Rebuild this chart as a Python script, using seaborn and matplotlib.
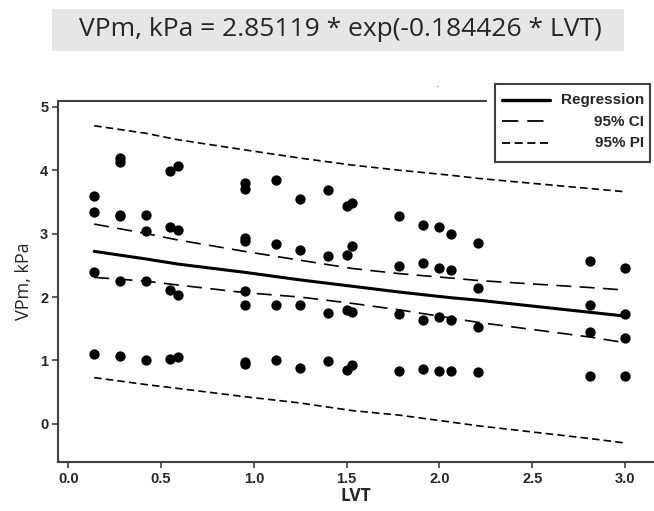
import numpy as np
import pandas as pd
import seaborn as sns
import matplotlib.pyplot as plt
from matplotlib.patches import Rectangle
from matplotlib.lines import Line2D

# ---- data ----
lvt = [0.14, 0.14, 0.14, 0.14,
       0.28, 0.28, 0.28, 0.28, 0.28, 0.28,
       0.42, 0.42, 0.42, 0.42,
       0.55, 0.55, 0.55, 0.55,
       0.59, 0.59, 0.59, 0.59,
       0.95, 0.95, 0.95, 0.95, 0.95, 0.95, 0.95, 0.95,
       1.12, 1.12, 1.12, 1.12,
       1.25, 1.25, 1.25, 1.25,
       1.40, 1.40, 1.40, 1.40,
       1.50, 1.50, 1.50, 1.50,
       1.53, 1.53, 1.53, 1.53,
       1.78, 1.78, 1.78, 1.78,
       1.91, 1.91, 1.91, 1.91,
       2.00, 2.00, 2.00, 2.00,
       2.06, 2.06, 2.06, 2.06,
       2.21, 2.21, 2.21, 2.21,
       2.81, 2.81, 2.81, 2.81,
       3.00, 3.00, 3.00, 3.00]
vpm = [3.60, 3.34, 2.40, 1.10,
       4.19, 4.13, 3.29, 3.27, 2.25, 1.07,
       3.30, 3.04, 2.25, 1.01,
       3.99, 3.11, 2.11, 1.03,
       4.06, 3.06, 2.03, 1.05,
       3.79, 3.70, 2.93, 2.89, 2.10, 1.88, 0.98, 0.95,
       3.85, 2.84, 1.88, 1.01,
       3.54, 2.74, 1.88, 0.88,
       3.69, 2.64, 1.75, 0.99,
       3.44, 2.66, 1.79, 0.85,
       3.48, 2.81, 1.77, 0.93,
       3.28, 2.49, 1.73, 0.84,
       3.14, 2.53, 1.64, 0.86,
       3.10, 2.46, 1.69, 0.84,
       2.99, 2.43, 1.64, 0.84,
       2.85, 2.14, 1.53, 0.82,
       2.57, 1.88, 1.45, 0.76,
       2.45, 1.74, 1.35, 0.76]

fit_x = [0.14, 0.42, 0.59, 0.95, 1.25, 1.53, 1.78, 2.06, 2.21, 2.81, 3.00]
fit_reg = [2.72, 2.60, 2.52, 2.39, 2.27, 2.17, 2.08, 1.99, 1.95, 1.76, 1.70]
ci_upper = [3.15, 3.00, 2.90, 2.72, 2.58, 2.45, 2.37, 2.30, 2.26, 2.15, 2.11]
ci_lower = [2.31, 2.25, 2.19, 2.07, 2.00, 1.90, 1.80, 1.67, 1.60, 1.37, 1.28]
pi_upper = [4.70, 4.58, 4.48, 4.32, 4.19, 4.08, 4.00, 3.92, 3.87, 3.71, 3.66]
pi_lower = [0.73, 0.62, 0.56, 0.43, 0.33, 0.21, 0.14, 0.03, -0.03, -0.23, -0.30]

x_ticks = [0.0, 0.5, 1.0, 1.5, 2.0, 2.5, 3.0]
y_ticks = [0, 1, 2, 3, 4, 5]
legend_labels = ["Regression", "95% CI", "95% PI"]
title_text = "VPm, kPa = 2.85119 * exp(-0.184426 * LVT)"

SPINE = "#404040"
W, H = 654, 511
CI_DASH = (0, (9, 5))
PI_DASH = (0, (4.5, 2.5))


def fx(px):
    return px / W


def fy(py):
    return 1 - py / H


sns.set_theme(style="white")
plt.rcParams['font.family'] = ['Liberation Sans', 'DejaVu Sans']

fig = plt.figure(figsize=(W / 100, H / 100), dpi=100)
ax = fig.add_axes([fx(58), fy(462), 1 - fx(58), (462 - 101) / H])

points = pd.DataFrame({"LVT": lvt, "VPm": vpm})
sns.scatterplot(data=points, x="LVT", y="VPm", ax=ax, color="black",
                s=55, edgecolor="black", linewidth=0, zorder=3)

lines = pd.DataFrame({"x": fit_x, "reg": fit_reg, "ciu": ci_upper, "cil": ci_lower,
                      "piu": pi_upper, "pil": pi_lower})
sns.lineplot(data=lines, x="x", y="reg", ax=ax, color="black", lw=2.2,
             estimator=None, sort=False)
for col in ["ciu", "cil"]:
    sns.lineplot(data=lines, x="x", y=col, ax=ax, color="black", lw=1.2,
                 linestyle=CI_DASH, estimator=None, sort=False)
for col in ["piu", "pil"]:
    sns.lineplot(data=lines, x="x", y=col, ax=ax, color="black", lw=1.2,
                 linestyle=PI_DASH, estimator=None, sort=False)

ax.set_xlim(-0.055, 3.156)
ax.set_ylim(-0.60, 5.09)
ax.set_xticks(x_ticks)
ax.set_xticklabels([f"{v:.1f}" for v in x_ticks])
ax.set_yticks(y_ticks)
ax.tick_params(axis="both", direction="out", length=4, width=1.2, color=SPINE,
               labelsize=10.5, pad=3, bottom=True, left=True)
for lab in ax.get_xticklabels() + ax.get_yticklabels():
    lab.set_fontweight("bold")

ax.set_xlabel("LVT", fontsize=12.5, fontweight="bold", family="Open Sans", labelpad=1)
ax.set_ylabel("VPm, kPa", fontsize=13, family="Open Sans", labelpad=5)

for side in ["left", "bottom", "top"]:
    ax.spines[side].set_color(SPINE)
    ax.spines[side].set_linewidth(1.5)
ax.spines["right"].set_visible(False)
ax.spines["top"].set_bounds(-0.055, (486 - 68.3) / 185.6)

# legend box with right-aligned labels (built by hand)
fig.patches.append(Rectangle((fx(495), fy(162)), (650 - 495) / W, (162 - 84) / H,
                             transform=fig.transFigure, facecolor="white",
                             edgecolor=SPINE, linewidth=1.5, zorder=5))
legend_styles = [dict(lw=2.4, ls="-"), dict(lw=1.3, ls=CI_DASH), dict(lw=1.3, ls=PI_DASH)]
for i, (lab, sty) in enumerate(zip(legend_labels, legend_styles)):
    row_y = fy(100 + 21.5 * i)
    fig.add_artist(Line2D([fx(502), fx(550)], [row_y, row_y], color="black",
                          linewidth=sty["lw"], linestyle=sty["ls"],
                          transform=fig.transFigure, zorder=6))
    fig.text(fx(644), row_y, lab, fontsize=11, fontweight="bold", ha="right",
             va="center", zorder=6)

fig.text(fx(436), fy(84), ".", fontsize=7, ha="center", va="center")

# grey title banner
fig.patches.append(Rectangle((fx(52), fy(51)), (624 - 52) / W, 42 / H,
                             transform=fig.transFigure, facecolor="#e6e6e6",
                             edgecolor="none", zorder=0))
fig.text(fx(79), fy(30), title_text, fontsize=19, family="Open Sans",
         ha="left", va="center")

fig.savefig("out.png", dpi=100)
